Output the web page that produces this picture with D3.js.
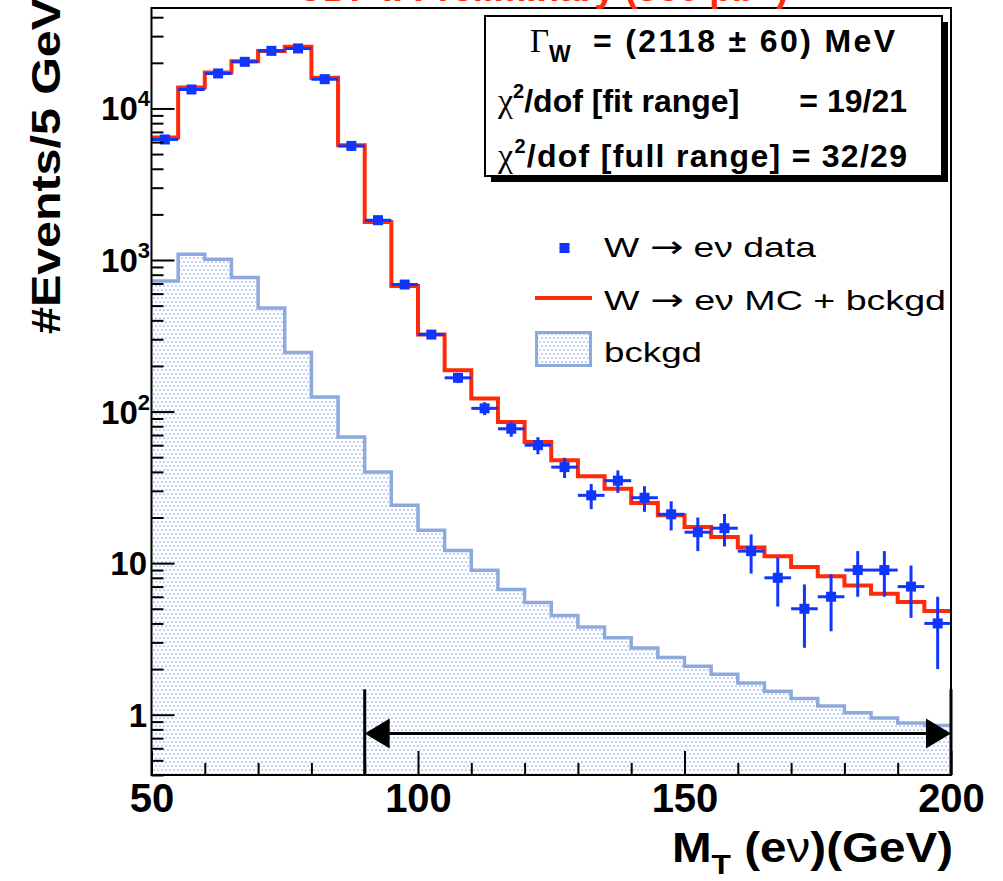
<!DOCTYPE html>
<meta charset="utf-8">
<html>
<head>
<script src="https://d3js.org/d3.v7.min.js"></script>
<style>
  body { margin: 0; background: #fff; }
  text { font-family: "Liberation Sans", Arial, Helvetica, sans-serif; }
</style>
</head>
<body>
<div id="my_dataviz"></div>
<script>

// bins: low edge of each 5 GeV bin of M_T
var binLow = [50, 55, 60, 65, 70, 75, 80, 85, 90, 95, 100, 105, 110, 115, 120,
              125, 130, 135, 140, 145, 150, 155, 160, 165, 170, 175, 180, 185, 190, 195];
var binWidth = 5;

// W -> e nu data (events / bin)
var dataCounts = [6240, 13340, 17020, 20310, 23990, 24890, 15600, 5660, 1832, 689,
                  322, 167, 105, 77, 60, 43, 28, 35, 27, 21,
                  16, 17, 12, 8, 5, 6, 9, 9, 7, 4];
// W -> e nu MC + background
var mcCounts = [6440, 13760, 17280, 20510, 23900, 25520, 15920, 5725, 1784, 675,
                322, 187, 122, 85.4, 63, 47.7, 37.4, 31.0, 24.9, 20.7,
                17.3, 14.9, 12.7, 11.1, 9.42, 8.18, 7.13, 6.29, 5.54, 4.83];
// background only
var bkgCounts = [728, 1092, 1012, 766, 483, 245, 125, 68, 39.9, 24.1,
                 16.5, 12.1, 8.96, 6.71, 5.49, 4.52, 3.79, 3.22, 2.75, 2.38,
                 2.09, 1.85, 1.62, 1.43, 1.28, 1.14, 1.03, 0.95, 0.88, 0.85];

// axis ticks and labels
var xTicks = [50, 100, 150, 200];
var xMinor = [60, 70, 80, 90, 110, 120, 130, 140, 160, 170, 180, 190];
var yMajor = [1, 10, 100, 1000, 10000];
var yLabelBase = ["1", "10", "10", "10", "10"];
var yLabelExp = ["", "", "2", "3", "4"];

// fit range arrow
var fitRange = [90, 200];
var arrowLevel = 0.75;
var fitLineTop = 1.47;

var legendLabels = [["W ", "\u2192", " e\u03bd data"], ["W ", "\u2192", " e\u03bd MC + bckgd"], ["bckgd"]];

var blue = "#1035ff", red = "#ff2a0a", bkgLine = "#8eaadc", dotColor = "#8ba6df";

var frame = {left: 151.5, right: 951, top: 8, bottom: 775};

var svg = d3.select("#my_dataviz")
  .append("svg")
    .attr("width", 1003)
    .attr("height", 881);

var x = d3.scaleLinear().domain([50, 200]).range([frame.left, frame.right]);
var y = d3.scaleLog().domain([0.4, 46000]).range([frame.bottom, frame.top]);

// dotted fill pattern and clip
var defs = svg.append("defs");
var pat = defs.append("pattern")
  .attr("id", "dots")
  .attr("patternUnits", "userSpaceOnUse")
  .attr("width", 8).attr("height", 8);
pat.append("rect").attr("width", 8).attr("height", 8).attr("fill", "#fff");
[[2, 2], [6, 2], [0, 6], [4, 6], [8, 6]].forEach(function(p) {
  pat.append("circle").attr("cx", p[0]).attr("cy", p[1]).attr("r", 0.85).attr("fill", dotColor);
});
defs.append("clipPath").attr("id", "clip")
  .append("rect")
    .attr("x", frame.left).attr("y", frame.top)
    .attr("width", frame.right - frame.left).attr("height", frame.bottom - frame.top);

var plot = svg.append("g").attr("clip-path", "url(#clip)");

function steps(values) {
  var pts = binLow.map(function(b, i) { return [b, values[i]]; });
  pts.push([binLow[binLow.length - 1] + binWidth, values[values.length - 1]]);
  return pts;
}

// background histogram
plot.append("path")
  .datum(steps(bkgCounts))
  .attr("fill", "url(#dots)")
  .attr("d", d3.area().curve(d3.curveStepAfter)
    .x(function(d) { return x(d[0]); })
    .y0(frame.bottom)
    .y1(function(d) { return y(d[1]); }));
plot.append("path")
  .datum(steps(bkgCounts))
  .attr("fill", "none")
  .attr("stroke", bkgLine)
  .attr("stroke-width", 3.5)
  .attr("d", d3.line().curve(d3.curveStepAfter)
    .x(function(d) { return x(d[0]); })
    .y(function(d) { return y(d[1]); }));

// MC + background
plot.append("path")
  .datum(steps(mcCounts))
  .attr("fill", "none")
  .attr("stroke", red)
  .attr("stroke-width", 4)
  .attr("d", d3.line().curve(d3.curveStepAfter)
    .x(function(d) { return x(d[0]); })
    .y(function(d) { return y(d[1]); }));

// data points with sqrt(N) errors
var pts = plot.selectAll(".pt")
  .data(dataCounts)
  .enter().append("g").attr("class", "pt");
pts.append("line")
  .attr("x1", function(d, i) { return x(binLow[i]); })
  .attr("x2", function(d, i) { return x(binLow[i] + binWidth); })
  .attr("y1", function(d) { return y(d); })
  .attr("y2", function(d) { return y(d); })
  .attr("stroke", blue).attr("stroke-width", 3);
pts.append("line")
  .attr("x1", function(d, i) { return x(binLow[i] + binWidth / 2); })
  .attr("x2", function(d, i) { return x(binLow[i] + binWidth / 2); })
  .attr("y1", function(d) { return y(d - Math.sqrt(d)); })
  .attr("y2", function(d) { return y(d + Math.sqrt(d)); })
  .attr("stroke", blue).attr("stroke-width", 3);
pts.append("rect")
  .attr("x", function(d, i) { return x(binLow[i] + binWidth / 2) - 5; })
  .attr("y", function(d) { return y(d) - 5; })
  .attr("width", 10).attr("height", 10)
  .attr("fill", blue);

// fit range marker
var aY = y(arrowLevel);
fitRange.forEach(function(v) {
  svg.append("line")
    .attr("x1", x(v)).attr("x2", x(v))
    .attr("y1", frame.bottom).attr("y2", y(fitLineTop))
    .attr("stroke", "#000").attr("stroke-width", 3);
});
svg.append("line")
  .attr("x1", x(fitRange[0]) + 10).attr("x2", x(fitRange[1]) - 10)
  .attr("y1", aY).attr("y2", aY)
  .attr("stroke", "#000").attr("stroke-width", 3);
svg.append("path")
  .attr("d", "M" + x(fitRange[0]) + "," + aY + "L" + (x(fitRange[0]) + 25) + "," + (aY - 15) +
             "L" + (x(fitRange[0]) + 25) + "," + (aY + 15) + "Z")
  .attr("fill", "#000");
svg.append("path")
  .attr("d", "M" + x(fitRange[1]) + "," + aY + "L" + (x(fitRange[1]) - 25) + "," + (aY - 15) +
             "L" + (x(fitRange[1]) - 25) + "," + (aY + 15) + "Z")
  .attr("fill", "#000");

// axes (ticks drawn inside the frame)
function styleAxis(g) {
  g.select(".domain").remove();
  g.selectAll(".tick line").attr("stroke", "#000").attr("stroke-width", 2);
}
svg.append("g")
  .attr("transform", "translate(" + frame.left + ",0)")
  .call(d3.axisLeft(y).tickValues(yMajor).tickSize(-23).tickFormat(""))
  .call(styleAxis);
svg.append("g")
  .attr("transform", "translate(" + frame.left + ",0)")
  .call(d3.axisLeft(y)
    .tickValues(y.ticks().filter(function(t) { return yMajor.indexOf(t) < 0; }))
    .tickSize(-12).tickFormat(""))
  .call(styleAxis);

var xAxis = svg.append("g")
  .attr("transform", "translate(0," + frame.bottom + ")")
  .call(d3.axisBottom(x).tickValues(xTicks).tickSize(-24).tickPadding(9).tickFormat(d3.format("d")))
  .call(styleAxis);
xAxis.selectAll("text")
  .attr("font-size", 40).attr("font-weight", "bold")
  .attr("font-family", "'Liberation Sans', Arial, sans-serif").attr("fill", "#000");
svg.append("g")
  .attr("transform", "translate(0," + frame.bottom + ")")
  .call(d3.axisBottom(x).tickValues(xMinor).tickSize(-12).tickFormat(""))
  .call(styleAxis);

// y tick labels with powers of ten
yMajor.forEach(function(v, i) {
  var t = svg.append("text")
    .attr("x", yLabelExp[i] ? 150 : 147).attr("y", y(v) + 12)
    .attr("text-anchor", "end")
    .attr("font-size", 33).attr("font-weight", "bold")
    .text(yLabelBase[i]);
  if (yLabelExp[i]) {
    t.append("tspan").attr("font-size", 22).attr("dy", -14).text(yLabelExp[i]);
  }
});

// frame
svg.append("rect")
  .attr("x", frame.left).attr("y", frame.top)
  .attr("width", frame.right - frame.left).attr("height", frame.bottom - frame.top)
  .attr("fill", "none").attr("stroke", "#000").attr("stroke-width", 2);

// axis titles
svg.append("text")
  .attr("transform", "translate(60,334) rotate(-90)")
  .attr("font-size", 40).attr("font-weight", "bold")
  .attr("textLength", 336).attr("lengthAdjust", "spacingAndGlyphs")
  .text("#Events/5 GeV");

var xt = svg.append("text")
  .attr("x", 672).attr("y", 862)
  .attr("font-size", 42).attr("font-weight", "bold")
  .attr("textLength", 281).attr("lengthAdjust", "spacingAndGlyphs");
xt.append("tspan").text("M");
xt.append("tspan").attr("font-size", 28).attr("dy", 12).text("T");
xt.append("tspan").attr("dy", -12).text(" (e");
xt.append("tspan").attr("font-weight", "normal").text("\u03bd");
xt.append("tspan").text(")(GeV)");

// title, mostly outside the canvas
var tt = svg.append("text")
  .attr("x", 296).attr("y", 1)
  .attr("font-size", 37).attr("font-weight", "bold").attr("fill", red)
  .text("CDF II Preliminary (350 pb");
tt.append("tspan").attr("font-size", 24).attr("dy", -14).text("-1");
tt.append("tspan").attr("dy", 14).text(")");

// fit result box
svg.append("rect")
  .attr("x", 491).attr("y", 22).attr("width", 457).attr("height", 160)
  .attr("fill", "#000");
svg.append("rect")
  .attr("x", 485).attr("y", 16).attr("width", 457).attr("height", 160)
  .attr("fill", "#fff").attr("stroke", "#000").attr("stroke-width", 2);

var serif = "'Liberation Serif', 'DejaVu Serif', serif";

var s1 = svg.append("text").attr("x", 530).attr("y", 52).attr("font-size", 33).attr("font-weight", "bold");
s1.append("tspan").attr("font-family", serif).attr("font-weight", "normal").text("\u0393");
s1.append("tspan").attr("font-size", 23).attr("dy", 10).text("W");
svg.append("text").attr("x", 593).attr("y", 52)
  .attr("font-size", 32).attr("font-weight", "bold")
  .attr("textLength", 302).attr("lengthAdjust", "spacing")
  .text("= (2118 \u00b1 60) MeV");

var s2 = svg.append("text").attr("x", 498).attr("y", 112)
  .attr("font-size", 32).attr("font-weight", "bold");
s2.append("tspan").attr("font-family", serif).attr("font-weight", "normal").attr("font-size", 34).text("\u03c7");
s2.append("tspan").attr("font-size", 20).attr("dy", -14).text("2");
s2.append("tspan").attr("dy", 14).text("/dof [fit range]");
svg.append("text").attr("x", 907).attr("y", 112)
  .attr("text-anchor", "end")
  .attr("font-size", 32).attr("font-weight", "bold")
  .text("= 19/21");

var s3 = svg.append("text").attr("x", 498).attr("y", 167)
  .attr("font-size", 32).attr("font-weight", "bold")
  .attr("textLength", 409).attr("lengthAdjust", "spacing");
s3.append("tspan").attr("font-family", serif).attr("font-weight", "normal").attr("font-size", 34).text("\u03c7");
s3.append("tspan").attr("font-size", 20).attr("dy", -14).text("2");
s3.append("tspan").attr("dy", 14).text("/dof [full range] = 32/29");

// legend
var legY = [257, 310, 362];
var legLen = [212, 342, 98];
svg.append("rect").attr("x", 559.5).attr("y", 243).attr("width", 10).attr("height", 10).attr("fill", blue);
svg.append("line").attr("x1", 535).attr("x2", 592).attr("y1", 298).attr("y2", 298)
  .attr("stroke", red).attr("stroke-width", 4);
svg.append("rect").attr("x", 536.5).attr("y", 332.5).attr("width", 54).attr("height", 33)
  .attr("fill", "url(#dots)").attr("stroke", bkgLine).attr("stroke-width", 3);
legendLabels.forEach(function(parts, i) {
  var t = svg.append("text")
    .attr("x", 604).attr("y", legY[i])
    .attr("font-size", 28)
    .attr("textLength", legLen[i]).attr("lengthAdjust", "spacingAndGlyphs");
  parts.forEach(function(p) {
    var s = t.append("tspan").text(p);
    if (p === "\u2192") s.attr("font-family", "'DejaVu Sans', sans-serif").attr("font-size", 30);
  });
});

</script>
</body>
</html>
